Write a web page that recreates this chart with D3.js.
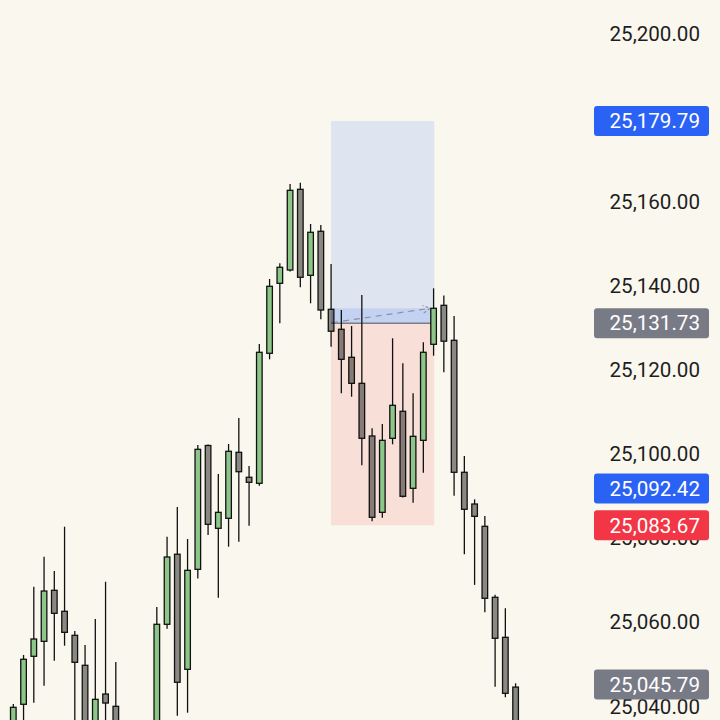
<!DOCTYPE html>
<html>
<head>
<meta charset="utf-8">
<script src="https://cdn.jsdelivr.net/npm/d3@7"></script>
<style>
  html, body { margin: 0; padding: 0; background: #FAF8EE; }
  svg { display: block; }
</style>
</head>
<body>
<svg id="chart" width="720" height="720"></svg>
<script>
// ---------- DATA ----------
const opens  = [25030.00,25041.11,25052.52,25056.08,25068.21,25063.22,25057.51,25050.38,25032.00,25043.55,
                25040.63,25033.00,25026.00,25022.00,25034.00,25060.13,25076.79,25049.43,25073.20,25102.64,
                25082.95,25085.33,25101.02,25095.08,25093.65,25124.56,25141.20,25144.36,25163.55,25143.10,
                25153.57,25135.02,25130.27,25123.61,25117.42,25104.90,25086.75,25104.35,25110.77,25092.46,
                25103.87,25126.70,25135.97,25127.65,25096.27,25088.73,25083.43,25066.55,25057.03,25045.20];
const highs  = [25041.18,25052.83,25069.07,25076.20,25072.80,25083.33,25058.53,25055.20,25061.39,25070.25,
                25051.16,25036.00,25030.00,25034.50,25064.24,25080.95,25088.02,25080.41,25102.76,25102.90,
                25095.86,25102.99,25109.18,25097.76,25126.77,25142.22,25145.96,25164.81,25165.12,25155.30,
                25155.06,25145.79,25134.85,25131.05,25138.42,25106.73,25107.75,25128.13,25122.18,25115.05,
                25127.17,25140.01,25138.30,25133.43,25100.14,25089.85,25085.88,25067.16,25063.93,25046.10];
const lows   = [25025.00,25035.00,25041.49,25045.53,25051.47,25055.04,25035.00,25028.00,25029.00,25034.00,
                25030.00,25022.00,25018.00,25020.00,25031.00,25059.08,25038.40,25039.11,25071.02,25081.36,
                25066.45,25078.58,25079.76,25083.57,25093.08,25123.13,25131.69,25144.00,25140.25,25136.45,
                25132.64,25126.13,25115.05,25114.24,25097.93,25084.61,25085.47,25102.92,25090.30,25089.04,
                25096.17,25123.99,25120.04,25090.70,25076.77,25069.50,25062.98,25045.29,25042.77,25028.00];
const closes = [25040.39,25051.81,25056.63,25068.04,25062.74,25058.22,25051.09,25032.00,25042.29,25041.41,
                25033.00,25026.00,25022.00,25032.00,25060.13,25076.13,25046.34,25072.96,25101.73,25083.90,
                25086.75,25101.26,25096.41,25093.89,25124.80,25140.49,25145.01,25163.31,25142.63,25153.33,
                25134.85,25129.81,25123.13,25117.42,25104.35,25085.57,25103.87,25112.19,25090.56,25104.82,
                25124.80,25135.26,25127.44,25096.27,25087.47,25085.80,25066.31,25056.80,25043.72,25032.00];

const shownTicks = [25040, 25060, 25080, 25100, 25120, 25140, 25160, 25200];

// position tool
const entryPrice  = 25131.73;
const targetPrice = 25179.79;
const stopPrice   = 25083.67;
const posStart = 31, posEnd = 41;

// right-scale price labels
const labelValues = [25179.79, 25131.73, 25092.42, 25083.67, 25045.79];
const labelKinds  = ["blue", "grey", "blue", "red", "grey"];

// ---------- DRAW ----------
const W = 720, H = 720;
const svg = d3.select("#chart");
svg.append("rect").attr("width", W).attr("height", H).attr("fill", "#FAF8EE");

const x = d3.scaleLinear().domain([0, 49]).range([13.3, 515.6]);
const y = d3.scaleLinear().domain([25040, 25200]).range([36 + 160 * 4.206, 36]);

const idx = d3.range(opens.length);
const bodyW = 5.6;

// position tool (behind candles)
const px0 = x(posStart), px1 = x(posEnd) + 0.7;
const pos = svg.append("g");
pos.append("rect")
  .attr("x", px0).attr("width", px1 - px0)
  .attr("y", y(targetPrice)).attr("height", y(entryPrice) - y(targetPrice))
  .attr("fill", "rgba(41,98,255,0.13)");
pos.append("rect")
  .attr("x", px0).attr("width", px1 - px0)
  .attr("y", y(entryPrice)).attr("height", y(stopPrice) - y(entryPrice))
  .attr("fill", "rgba(242,54,69,0.13)");
const curPrice = closes[posEnd];
pos.append("rect")
  .attr("x", px0).attr("width", px1 - px0)
  .attr("y", y(curPrice)).attr("height", y(entryPrice) - y(curPrice))
  .attr("fill", "rgba(41,98,255,0.14)");
pos.append("line")
  .attr("x1", px0).attr("x2", px1)
  .attr("y1", y(entryPrice)).attr("y2", y(entryPrice))
  .attr("stroke", "#7B7E88").attr("stroke-width", 1.5);
const ax0 = px0 + 1, ay0 = y(entryPrice) - 0.5;
const ax1 = x(posEnd) - 3.5, ay1 = y(curPrice);
pos.append("line")
  .attr("x1", ax0).attr("y1", ay0).attr("x2", ax1).attr("y2", ay1)
  .attr("stroke", "#8A90A6").attr("stroke-width", 1.2)
  .attr("stroke-dasharray", "6,5");
const ang = Math.atan2(ay1 - ay0, ax1 - ax0);
const ah = 8;
pos.append("path")
  .attr("d", `M${ax1 - ah * Math.cos(ang - 0.5)},${ay1 - ah * Math.sin(ang - 0.5)} L${ax1},${ay1} L${ax1 - ah * Math.cos(ang + 0.5)},${ay1 - ah * Math.sin(ang + 0.5)}`)
  .attr("fill", "none").attr("stroke", "#8A90A6").attr("stroke-width", 1.2)
  .attr("stroke-dasharray", "3,2");

// candles: upper and lower wicks drawn separately so they never show through bodies
const candles = svg.append("g");
candles.selectAll("line.uw").data(idx).join("line")
  .attr("class", "uw")
  .attr("x1", i => x(i)).attr("x2", i => x(i))
  .attr("y1", i => y(highs[i])).attr("y2", i => y(Math.max(opens[i], closes[i])))
  .attr("stroke", "#111").attr("stroke-width", 1.3);
candles.selectAll("line.lw").data(idx).join("line")
  .attr("class", "lw")
  .attr("x1", i => x(i)).attr("x2", i => x(i))
  .attr("y1", i => y(Math.min(opens[i], closes[i]))).attr("y2", i => y(lows[i]))
  .attr("stroke", "#111").attr("stroke-width", 1.3);
candles.selectAll("rect.body").data(idx).join("rect")
  .attr("class", "body")
  .attr("x", i => x(i) - bodyW / 2)
  .attr("width", bodyW)
  .attr("y", i => y(Math.max(opens[i], closes[i])))
  .attr("height", i => Math.max(1, Math.abs(y(opens[i]) - y(closes[i]))))
  .attr("fill", i => closes[i] >= opens[i] ? "#8DC689" : "rgba(0,0,0,0.45)")
  .attr("stroke", "#111").attr("stroke-width", 1.3);

// right axis
const fmt = d3.format(",.2f");
const axisG = svg.append("g").attr("transform", "translate(700,0)")
  .call(d3.axisRight(y).tickValues(shownTicks).tickSize(0).tickFormat(fmt));
axisG.select(".domain").remove();
axisG.selectAll("text")
  .attr("x", 0).attr("dy", "0.2em")
  .attr("text-anchor", "end")
  .attr("fill", "#1E1E1E")
  .style("font-family", "Roboto, sans-serif")
  .style("font-size", "20.6px");

// price labels
const kindColor = { blue: "#2B62F6", grey: "#787B86", red: "#F23645" };
const lab = svg.append("g").selectAll("g").data(labelValues).join("g")
  .attr("transform", v => `translate(0,${y(v)})`);
lab.append("rect")
  .attr("x", 594).attr("y", -15).attr("width", 115).attr("height", 30).attr("rx", 3)
  .attr("fill", (v, i) => kindColor[labelKinds[i]]);
lab.append("text")
  .attr("x", 700).attr("y", 7.3)
  .attr("text-anchor", "end")
  .attr("fill", "#fff")
  .style("font-family", "Roboto, sans-serif")
  .style("font-size", "20.6px")
  .text(v => fmt(v));
</script>
</body>
</html>
